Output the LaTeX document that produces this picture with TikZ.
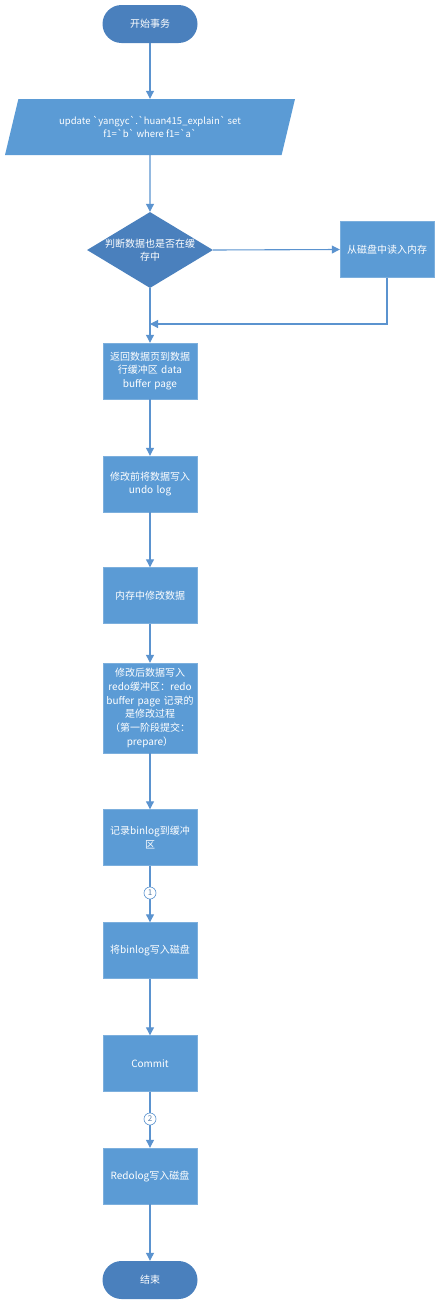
\documentclass[tikz,border=0pt]{standalone}
\usepackage{fontspec}
\setmainfont{Noto Sans CJK SC}[Ligatures=TeXOff]
\usetikzlibrary{arrows.meta,shapes.geometric}
\definecolor{boxblue}{HTML}{5B9BD5}
\definecolor{darkblue}{HTML}{4A80BD}
\definecolor{linecol}{HTML}{5B93CF}
\definecolor{numcol}{HTML}{5A7FA8}
\tikzset{
  stepbox/.style={rectangle, fill=boxblue, draw=boxblue!80!white, minimum width=94pt, minimum height=56pt, text width=90pt, align=center, text=white, inner sep=1pt, font=\fontsize{10}{13.3}\selectfont},
  term/.style={rectangle, rounded corners=19pt, fill=darkblue, minimum width=95pt, minimum height=38pt, text=white, font=\fontsize{10}{13}\selectfont},
  conn/.style={draw=linecol, line width=1.1pt, -{Triangle[length=8pt,width=8pt]}},
  plain/.style={draw=linecol, line width=1.1pt},
  numc/.style={circle, draw=linecol, fill=white, line width=0.6pt, minimum size=12pt, inner sep=0pt, text=numcol, font=\fontsize{8}{8}\selectfont}
}
\begin{document}
\begin{tikzpicture}[x=1pt,y=-1pt]
\useasboundingbox (0,0) rectangle (440,1309);
\node[term] (start) at (150,24) {开始事务};
\node[trapezium, trapezium left angle=58, trapezium right angle=122, trapezium stretches body, minimum width=290pt, minimum height=56pt, fill=boxblue, text=white, align=center, font=\fontsize{9.5}{13}\selectfont, inner sep=0pt] (para) at (150,127) {update `yangyc`.`huan415\_explain` set\\ f1=`b` where f1=`a`};
\node[diamond, fill=darkblue, minimum width=126pt, minimum height=76pt, inner sep=0pt] (dia) at (150,250) {};
\node[text=white, align=center, font=\fontsize{10}{13.5}\selectfont] (diatext) at (150,250) {判断数据也是否在缓\\存中};
\node[stepbox] (disk) at (387,249.5) {从磁盘中读入内存};
\coordinate (merge) at (150,324);
\node[stepbox] (b1) at (150,371) {返回数据页到数据\\行缓冲区 data\\buffer page};
\node[stepbox] (b2) at (150,484) {修改前将数据写入\\undo log};
\node[stepbox] (b3) at (150,595.5) {内存中修改数据};
\node[stepbox, minimum height=90pt, font=\fontsize{10}{13.8}\selectfont] (b4) at (150,708) {修改后数据写入\\redo缓冲区：redo\\buffer page 记录的\\是修改过程\\（第一阶段提交：\\prepare）};
\node[stepbox] (b5) at (150,837.5) {记录binlog到缓冲\\区};
\node[stepbox] (b6) at (150,950.5) {将binlog写入磁盘};
\node[stepbox] (b7) at (150,1063.5) {Commit};
\node[stepbox] (b8) at (150,1176) {Redolog写入磁盘};
\node[term] (end) at (150,1280) {结束};

\draw[conn] (start) -- (para);
\draw[conn] (para.south) -- (dia.north);
\draw[conn] (dia.east) -- (disk.west);
\draw[conn] (disk.south) |- (merge);
\draw[conn] (dia.south) -- (b1.north);
\draw[conn] (b1) -- (b2);
\draw[conn] (b2) -- (b3);
\draw[conn] (b3) -- (b4);
\draw[conn] (b4) -- (b5);
\draw[conn] (b5) -- (b6);
\draw[conn] (b6) -- (b7);
\draw[conn] (b7) -- (b8);
\draw[conn] (b8) -- (end);
\node[numc] (c1) at (150,893) {1};
\node[numc] (c2) at (150,1119) {2};
\end{tikzpicture}
\end{document}
